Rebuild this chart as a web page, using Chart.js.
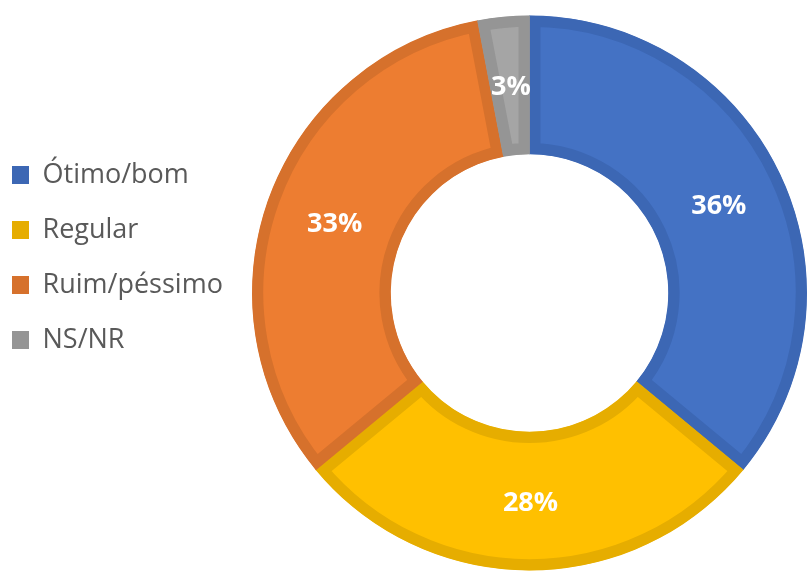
<!DOCTYPE html>
<html>
<head>
<meta charset="utf-8">
<script src="https://cdn.jsdelivr.net/npm/chart.js@4"></script>
<style>
  html, body { margin: 0; padding: 0; background: #fff; }
  #wrap { position: relative; width: 807px; height: 572px; }
</style>
</head>
<body>
<div id="wrap"><canvas id="chartAval" width="807" height="572"></canvas></div>
<script>
const CATEGORIES = ['Ótimo/bom', 'Regular', 'Ruim/péssimo', 'NS/NR'];
const VALUES = [36, 28, 33, 3];
const FILL_COLORS = ['#4472C4', '#FFC000', '#ED7D31', '#A5A5A5'];
const EDGE_COLORS = ['#3C67B4', '#E6AD00', '#D6712C', '#959595'];

const FONT = '"Open Sans", "Noto Sans", sans-serif';
const LEGEND_W = 252;

// put the legend where the original has it (left column, upper half)
const legendPlacer = {
  id: 'legendPlacer',
  beforeLayout(chart) {
    const lg = chart.legend;
    if (!lg || lg._patched) return;
    const fit = lg.fit;
    lg.fit = function () { fit.call(this); this.width = LEGEND_W; };
    lg._patched = true;
  },
  afterLayout(chart) {
    const lg = chart.legend;
    const dx = -16 - lg.left;
    lg.left += dx; lg.right += dx;
    const dy = 133.5 - lg.top;
    lg.top += dy; lg.bottom += dy;
  },
};

const sliceLabels = {
  id: 'sliceLabels',
  afterDatasetsDraw(chart) {
    const ctx = chart.ctx;
    const meta = chart.getDatasetMeta(0);
    ctx.save();
    ctx.font = `bold 27px ${FONT}`;
    ctx.fillStyle = '#ffffff';
    ctx.textAlign = 'center';
    ctx.textBaseline = 'middle';
    meta.data.forEach((arc, i) => {
      const p = arc.tooltipPosition();
      ctx.fillText(`${VALUES[i]}%`, p.x + 1, p.y + 2);
    });
    ctx.restore();
  },
};

new Chart(document.getElementById('chartAval'), {
  type: 'doughnut',
  data: {
    labels: CATEGORIES,
    datasets: [{
      data: VALUES,
      backgroundColor: FILL_COLORS,
      borderColor: EDGE_COLORS,
      borderWidth: 11,
      borderAlign: 'inner',
      borderJoinStyle: 'miter',
      hoverOffset: 0,
    }],
  },
  options: {
    responsive: false,
    animation: false,
    cutout: '50%',
    layout: { padding: { top: 15, bottom: 1 } },
    plugins: {
      tooltip: { enabled: false },
      legend: {
        position: 'left',
        align: 'start',
        labels: {
          boxWidth: 17,
          boxHeight: 18,
          padding: 28,
          color: '#595959',
          font: { family: FONT, size: 27 },
          generateLabels: chart => {
            const items = Chart.overrides.doughnut.plugins.legend.labels.generateLabels(chart);
            return items.map((it, i) => ({ ...it, fillStyle: EDGE_COLORS[i], strokeStyle: EDGE_COLORS[i], lineWidth: 0 }));
          },
        },
      },
    },
  },
  plugins: [legendPlacer, sliceLabels],
});
</script>
</body>
</html>
